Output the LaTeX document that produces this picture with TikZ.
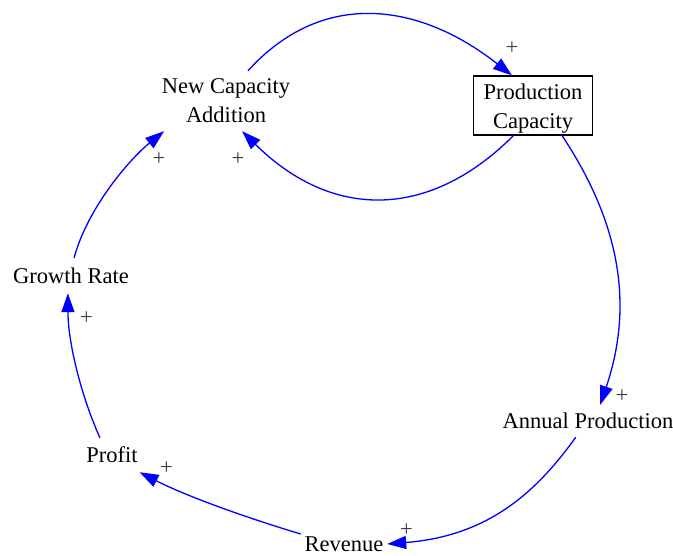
\documentclass[tikz,border=0pt]{standalone}
\usepackage{fontspec}
\setmainfont{Liberation Serif}
\usetikzlibrary{arrows.meta}
\definecolor{linkblue}{RGB}{0,0,255}
\definecolor{signgray}{RGB}{60,60,60}
\begin{document}
\begin{tikzpicture}[x=1bp,y=-1bp,
  var/.style={inner sep=0pt, align=center, font=\fontsize{22.5bp}{28.7bp}\selectfont},
  stock/.style={var, draw, line width=1.2bp},
  link/.style={draw=linkblue, line width=1.3bp, -{Triangle[length=19bp,width=13bp]}},
  sign/.style={inner sep=0pt, text=signgray, font=\fontsize{22.5bp}{24bp}\selectfont}
]
\useasboundingbox (0,0) rectangle (673,556);
\node[var, minimum width=142bp, minimum height=60bp] (nca) at (226,101) {New Capacity\\Addition};
\node[stock, minimum width=119bp, minimum height=59bp] (pc) at (533,105.5) {\rule{0pt}{22.5bp}Production\\Capacity};
\node[var, minimum width=172bp, minimum height=32bp] (ap) at (588,421) {Annual Production};
\node[var, minimum width=86bp, minimum height=30bp] (rev) at (344,544) {Revenue};
\node[var, minimum width=56bp, minimum height=34bp] (profit) at (112,455) {Profit};
\node[var, minimum width=120bp, minimum height=35bp] (gr) at (71,275.5) {Growth Rate};

\draw[link] (nca.54) .. controls (323,-12) and (420,3) .. (pc.125);
\draw[link] (pc.237) .. controls (429,220) and (332,220) .. (nca.298);
\draw[link] (pc.-46) .. controls (618,220) and (635,302) .. (ap.53);
\draw[link] (ap.233) .. controls (535,494) and (487,536) .. (rev.east);
\draw[link] (rev.167) .. controls (254,520) and (190,498) .. (profit.-32);
\draw[link] (profit.125) .. controls (81.5,397) and (68,343) .. (gr.260);
\draw[link] (gr.80) .. controls (87,209.5) and (128,160.5) .. (nca.206);

\node[sign] (s1) at (512,48) {+};
\node[sign] (s2) at (238,159) {+};
\node[sign] (s3) at (159,159) {+};
\node[sign] (s4) at (622,396) {+};
\node[sign] (s5) at (406.5,530) {+};
\node[sign] (s6) at (166.5,468) {+};
\node[sign] (s7) at (86.5,318.5) {+};
\end{tikzpicture}
\end{document}
